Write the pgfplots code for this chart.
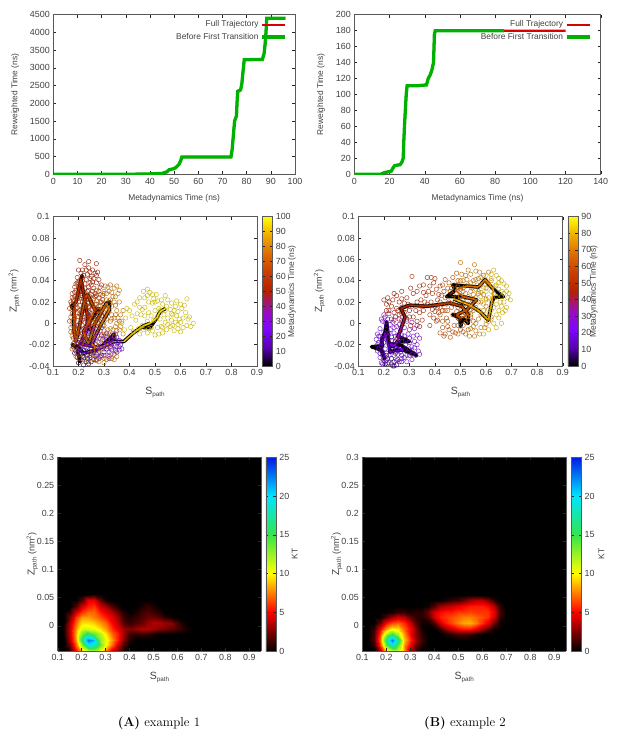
\documentclass[border=0pt]{standalone}
\usepackage{fontspec}
\setsansfont{Liberation Sans}
\usepackage{pgfplots}
\pgfplotsset{compat=1.18}

\definecolor{txt}{gray}{0.25}
\newcommand\tf{\sffamily\fontsize{8.4}{9}\selectfont}
\newcommand\tk{\sffamily\fontsize{8.9}{9}\selectfont}
\newcommand\lb[2]{{\fontsize{#2}{11}\selectfont #1\raisebox{-.35ex}{\fontsize{6.3}{7}\selectfont path}}}
\newcommand\Sp{\lb{S}{10.5}}
\newcommand\Zp{\lb{Z}{10}{\fontsize{9}{11}\selectfont{} (nm\textsuperscript{2})}}

\pgfplotsset{
  colormap={gp}{rgb=(0,0,0) rgb=(.35,0,.71) rgb=(.5,.02,1) rgb=(.61,.05,.71) rgb=(.71,.125,0) rgb=(.79,.24,0) rgb=(.87,.42,0) rgb=(.935,.67,0) rgb=(1,1,0)},
  colormap={kt}{rgb=(0,0,0) rgb=(1,0,0) rgb=(1,1,0) rgb=(.2,.9,.3) rgb=(0,.9,1) rgb=(0,.1,.9)},
  fonts/.style={
    tick label style={font=\tk, text=txt},
    label style={font=\tf, text=txt},
    /pgf/number format/assume math mode=true,
    /pgf/number format/fixed, /pgf/number format/precision=2,
    /pgf/number format/set thousands separator={},
    scaled ticks=false,
  },
  panel/.style={
    scale only axis, anchor=south west, tick align=inside, fonts,
    axis line style={black!65, line width=.5pt},
    tick style={black!85, line width=.4pt},
    major tick length=3pt,
  },
  trace/.style={
    legend plot pos=right, legend cell align=right,
    legend image code/.code={\draw[##1] (0pt,0pt) -- (23pt,0pt);},
    legend style={font=\tf, text=txt, draw=none, fill=none, inner sep=0pt, row sep=.6pt, anchor=north east},
  },
  cbar/.style n args={3}{colorbar, colorbar style={fonts,
    axis line style={black!65, line width=.5pt},
    tick style={black!85, line width=.4pt},
    at={(#1,1)}, anchor=north west, width=10pt, ytick={#2},
    tick align=inside, major tick length=2.5pt, yticklabel pos=right,
    ylabel style={at={(axis description cs:#3,0.5)}, anchor=center, rotate=0},
  }},
  dots/.style={scatter, only marks, mark=o, mark size=2.2pt, point meta=#1,
    mark options={line width=.5pt, opacity=.85}},
  heat/.style={surf, shader=interp, mesh/cols=24, mesh/ordering=x varies},
}

\begin{document}
\begin{tikzpicture}[x=1pt,y=1pt]
\path[use as bounding box] (0,0) rectangle (617,738);

% top row: reweighted time
\begin{axis}[panel, trace, at={(53.3pt,563.7pt)}, width=241.7pt, height=159.6pt,
  xmin=0, xmax=100, ymin=0, ymax=4500, xtick={0,10,...,100}, ytick={0,500,...,4500},
  xlabel={Metadynamics Time (ns)}, ylabel={Reweighted Time (ns)},
  xlabel style={at={(axis description cs:0.5,-0.148)}, anchor=center},
  ylabel style={at={(axis description cs:-0.158,0.5)}, anchor=center},
  legend style={at={(axis description cs:0.967,0.975)}}]
\addplot[red!85!black, line width=2.2pt] coordinates {(0,0)(30,0)(40,10)(45,25)(47,70)(48,130)(50,160)(51,210)(52,280)(52.8,400)(53.2,490)(73.5,490)(74,700)(74.5,1100)(75,1500)(75.8,1650)(76,2000)(76.3,2340)(77.5,2380)(78,2550)(78.5,2900)(79,3230)(86.5,3240)(87.2,3400)(87.6,3650)(88,4000)(88.3,4400)(96,4400)};
\addlegendentry{Full Trajectory}
\addplot[green!70!black, line width=3.3pt] coordinates {(0,0)(30,0)(40,10)(45,25)(47,70)(48,130)(50,160)(51,210)(52,280)(52.8,400)(53.2,490)(73.5,490)(74,700)(74.5,1100)(75,1500)(75.8,1650)(76,2000)(76.3,2340)(77.5,2380)(78,2550)(78.5,2900)(79,3230)(86.5,3240)(87.2,3400)(87.6,3650)(88,4000)(88.3,4400)(96,4400)};
\addlegendentry{Before First Transition}
\end{axis}

\begin{axis}[panel, trace, at={(354.3pt,563.7pt)}, width=246.4pt, height=159.6pt,
  xmin=0, xmax=140, ymin=0, ymax=200, xtick={0,20,...,140}, ytick={0,20,...,200},
  xlabel={Metadynamics Time (ns)}, ylabel={Reweighted Time (ns)},
  xlabel style={at={(axis description cs:0.5,-0.148)}, anchor=center},
  ylabel style={at={(axis description cs:-0.135,0.5)}, anchor=center},
  legend style={at={(axis description cs:0.963,0.975)}}]
\addplot[red!85!black, line width=2.2pt] coordinates {(0,0)(15,0)(17,2)(19,3)(21,4)(22,8)(23,11)(26,12)(27,15)(27.8,20)(28,35)(28.5,60)(29,80)(29.5,100)(30,111)(36,111)(41,112)(42,120)(43,124)(44,130)(45,140)(45.3,160)(45.5,175)(46,180)(85,180)(120,180)};
\addlegendentry{Full Trajectory}
\addplot[green!70!black, line width=3.3pt] coordinates {(0,0)(15,0)(17,2)(19,3)(21,4)(22,8)(23,11)(26,12)(27,15)(27.8,20)(28,35)(28.5,60)(29,80)(29.5,100)(30,111)(36,111)(41,112)(42,120)(43,124)(44,130)(45,140)(45.3,160)(45.5,175)(46,180)(85,180)};
\addlegendentry{Before First Transition}
\end{axis}

% middle row: path collective variables, coloured by time
\begin{axis}[panel, at={(53pt,372pt)}, width=204pt, height=149.3pt,
  xmin=0.1, xmax=0.9, ymin=-0.04, ymax=0.1, xtick={0.1,0.2,...,0.9}, ytick={-0.04,-0.02,0,0.02,0.04,0.06,0.08,0.1},
  xlabel={\Sp}, ylabel={\Zp},
  xlabel style={at={(axis description cs:0.5,-0.178)}, anchor=center},
  ylabel style={at={(axis description cs:-0.19,0.5)}, anchor=center},
  colormap name=gp, point meta min=0, point meta max=100,
  cbar={1.026}{0,10,...,100}{2.97}, colorbar style={ylabel={Metadynamics Time (ns)}}]
\addplot[dots=5] coordinates {(.2,-.037)(.22,-.039)(.24,-.038)(.21,-.034)(.23,-.036)(.25,-.036)(.195,-.032)(.215,-.031)(.235,-.033)(.26,-.034)(.185,-.028)(.205,-.028)(.225,-.028)(.245,-.03)};
\addplot[dots=12] coordinates {(.18,-.022)(.19,-.026)(.2,-.024)(.21,-.021)(.22,-.025)(.23,-.023)(.24,-.026)(.25,-.024)(.26,-.027)(.27,-.029)(.28,-.026)(.29,-.03)(.3,-.027)(.275,-.022)(.255,-.02)(.235,-.018)(.215,-.017)(.195,-.019)(.31,-.024)(.245,-.032)(.27,-.034)(.21,-.029)(.2,-.018)(.225,-.022)(.25,-.028)(.265,-.031)(.285,-.031)(.22,-.032)(.235,-.03)};
\addplot[dots=22] coordinates {(.19,-.016)(.205,-.012)(.22,-.015)(.235,-.013)(.25,-.017)(.265,-.014)(.28,-.018)(.295,-.015)(.31,-.019)(.325,-.016)(.34,-.021)(.355,-.018)(.3,-.024)(.32,-.027)(.34,-.029)(.36,-.025)(.37,-.024)(.285,-.022)(.265,-.009)(.245,-.008)(.225,-.006)(.35,-.013)(.33,-.011)(.31,-.009)(.29,-.011)(.345,-.025)(.325,-.022)(.365,-.02)(.315,-.02)(.33,-.025)(.35,-.027)(.36,-.022)(.345,-.016)(.33,-.02)(.34,-.013)(.32,-.033)(.3,-.012)};
\addplot[dots=32] coordinates {(.21,-.01)(.23,-.003)(.25,-.005)(.27,-.006)(.29,-.004)(.31,-.013)(.33,-.015)(.345,-.01)(.36,-.016)(.35,-.022)(.33,-.019)(.32,-.031)(.3,-.03)(.28,-.033)(.24,-.02)(.26,-.016)(.22,-.02)(.3,-.02)(.275,-.012)(.235,-.009)};
\addplot[dots=42] coordinates {(.2,-.002)(.215,.003)(.23,.006)(.245,.01)(.26,.004)(.275,.001)(.29,.007)(.3,-.002)(.255,-.003)(.27,.012)(.24,.015)(.225,-.004)(.285,-.007)(.21,.008)};
\addplot[dots=52] coordinates {(.205,.059)(.225,.055)(.24,.052)(.27,.056)(.255,.05)(.265,.047)(.21,.047)(.195,.043)(.22,.045)(.235,.046)(.25,.044)(.28,.041)(.27,.038)(.19,.037)(.205,.04)(.225,.037)(.245,.038)(.26,.033)(.29,.036)(.28,.03)(.2,.033)(.215,.03)(.235,.03)(.25,.027)(.27,.026)(.185,.029)(.295,.026)(.285,.02)(.265,.018)(.24,.02)(.22,.023)(.2,.025)(.18,.022)(.275,.012)(.29,.012)(.2,.05)(.215,.043)(.23,.05)(.245,.042)(.26,.042)(.275,.048)(.21,.038)(.24,.034)(.265,.028)(.19,.031)(.23,.025)(.255,.03)(.285,.034)(.225,.033)(.21,.026)(.28,.024)(.25,.036)(.195,.038)(.27,.045)(.24,.058)};
\addplot[dots=58] coordinates {(.17,.02)(.18,.015)(.19,.019)(.205,.017)(.215,.012)(.23,.016)(.25,.013)(.26,.023)(.24,.031)(.21,.034)(.195,.01)(.175,.009)(.22,.006)(.245,.005)(.265,.009)(.28,.005)(.3,.018)(.305,.008)(.185,.004)(.2,.028)(.23,.041)(.255,.039)(.215,.05)(.245,.048)(.175,.024)(.195,.023)(.215,.02)(.235,.019)(.245,.025)(.265,.025)(.225,.028)(.205,.03)(.185,.025)(.19,.014)(.205,.009)(.225,.012)(.24,.008)(.255,.016)(.27,.018)(.29,.02)};
\addplot[dots=66] coordinates {(.165,.014)(.17,.006)(.178,-.002)(.185,.012)(.172,.018)(.19,.026)(.2,.02)(.21,.024)(.22,.016)(.23,.022)(.24,.012)(.2,.006)(.19,-.006)(.205,-.004)(.17,-.008)(.18,-.014)(.195,-.012)(.215,-.009)(.225,.001)(.25,.018)(.26,.015)(.27,.006)(.235,.026)(.175,.028)(.185,.034)(.2,.038)(.215,.04)(.165,.002)(.175,.002)(.185,-.004)(.195,-.002)(.215,-.002)(.205,.012)(.235,.003)(.25,.008)(.26,.001)(.195,.015)(.175,.013)(.18,.02)(.21,.013)(.185,-.009)(.2,-.016)(.22,-.005)(.24,-.002)};
\addplot[dots=74] coordinates {(.17,-.004)(.175,-.012)(.18,-.019)(.185,-.024)(.195,-.028)(.205,-.023)(.215,-.014)(.225,-.011)(.24,-.006)(.255,.001)(.265,-.002)(.28,.009)(.295,.014)(.31,.022)(.3,.028)(.285,.027)(.27,.031)(.25,.024)(.235,.008)(.21,.002)(.195,.003)(.18,.008)(.32,.012)(.31,.004)(.325,.002)(.3,-.007)(.29,-.012)(.275,-.017)(.26,-.022)(.245,-.028)(.26,-.03)(.28,-.028)(.3,-.033)(.315,-.03)(.33,-.033)(.32,-.01)(.335,-.006)(.34,.005)(.345,.017)(.335,.025)(.32,.03)(.305,.035)(.325,.036)(.18,-.008)(.19,-.014)(.2,-.009)(.21,-.019)(.225,-.02)(.235,-.015)(.25,-.011)(.26,-.007)(.27,.002)(.28,-.003)(.29,.004)(.3,.01)(.31,.013)(.32,.021)(.33,.008)(.295,.022)(.28,.016)(.265,.014)(.25,.004)(.24,.016)(.225,.019)(.21,.007)(.185,-.018)(.175,-.024)(.19,-.031)(.205,-.033)(.225,-.034)(.24,-.036)(.255,-.026)(.27,-.02)(.285,-.014)(.3,-.017)(.315,-.015)(.33,-.023)(.345,-.026)(.31,-.022)(.29,-.024)(.27,-.035)(.35,-.007)(.36,.002)};
\addplot[dots=82] coordinates {(.3,.03)(.315,.034)(.34,.033)(.35,.035)(.355,.028)(.34,.02)(.33,.016)(.35,.012)(.36,.02)(.365,.008)(.35,0)(.36,-.006)(.37,.002)(.375,-.01)(.34,-.012)(.355,.005)(.315,-.006)(.3,.002)(.285,.016)(.27,.021)(.255,-.012)(.24,-.016)(.27,-.025)(.29,-.032)(.31,-.034)(.33,-.028)(.35,-.031)(.34,-.034)(.22,-.03)(.26,-.033)(.28,-.036)(.3,-.037)(.375,.012)(.345,.025)(.33,.029)(.31,.028)(.325,.022)(.315,.015)(.33,.004)(.345,-.003)(.325,-.005)(.31,-.011)(.295,-.002)(.28,.012)(.36,.031)(.345,.008)(.365,-.003)};
\addplot[dots=96] coordinates {(.37,0)(.38,-.006)(.385,.005)(.39,.014)(.4,.012)(.405,-.004)(.41,.007)(.42,.018)(.43,.02)(.44,.015)(.425,.003)(.415,-.008)(.435,-.005)(.445,.008)(.455,.03)(.47,.032)(.46,.024)(.48,.029)(.49,.027)(.505,.027)(.475,.02)(.49,.019)(.51,.021)(.525,.022)(.5,.012)(.485,.007)(.47,.002)(.455,-.006)(.47,-.009)(.485,-.004)(.5,-.011)(.515,-.01)(.53,-.009)(.545,-.006)(.56,-.003)(.575,-.007)(.59,-.005)(.52,.004)(.535,.008)(.55,.005)(.565,.003)(.58,.001)(.595,.004)(.61,-.004)(.625,-.002)(.64,-.003)(.65,0)(.635,.006)(.62,.01)(.605,.014)(.59,.011)(.575,.012)(.56,.013)(.545,.016)(.53,.018)(.55,.022)(.565,.019)(.58,.016)(.6,.018)(.625,.023)(.61,.005)(.51,-.004)(.495,.003)(.54,.001)(.525,-.003)(.44,-.01)(.45,.013)(.515,.014)(.6,-.008)(.57,.008)(.43,.009)(.46,.015)(.475,.01)(.5,.02)(.52,.012)(.54,.012)(.565,.009)(.585,.007)(.6,.001)(.57,-.002)(.55,-.001)(.53,-.004)(.51,.006)(.49,-.007)(.46,.007)(.44,.024)(.47,.026)(.495,.023)(.54,.026)(.585,.021)(.615,.017)(.63,.004)(.59,-.001)(.45,-.002)(.475,-.005)};
\addplot[black, line width=3.6pt, line join=round] coordinates {(.206,-.037)(.195,-.023)(.175,-.02)(.2,-.022)(.219,-.028)(.271,-.025)(.337,-.016)(.34,-.01)(.284,-.023)(.206,-.019)(.229,-.009)(.239,.009)(.245,-.006)(.21,.041)(.214,.045)(.19,.02)(.172,.016)(.182,.0125)(.182,-.006)(.19,-.017)(.206,0)(.225,.023)(.235,.027)(.265,.0125)(.28,.014)(.219,-.008)(.239,-.019)(.265,0)(.31,.019)(.322,.02)(.321,.0125)(.284,-.003)(.252,-.019)(.265,-.023)(.297,-.022)(.337,-.017)(.378,-.017)(.415,-.009)(.454,-.0025)(.48,0)(.455,-.004)(.48,-.004)(.507,.005)(.52,.011)(.542,.014)};
\addplot[mesh, line width=1.6pt, line join=round, point meta=explicit] coordinates {(.206,-.034)[5](.195,-.023)[10](.219,-.028)[15](.271,-.025)[20](.337,-.016)[25](.284,-.023)[30](.206,-.019)[32](.229,-.009)[36](.239,.009)[40](.245,-.006)[44](.21,.041)[55](.182,.0125)[62](.182,-.006)[68](.19,-.017)[70](.206,0)[71](.225,.023)[72](.235,.027)[72](.265,.0125)[73](.219,-.008)[74](.239,-.019)[75](.265,0)[76](.31,.019)[77](.321,.0125)[78](.284,-.003)[79](.252,-.019)[80](.265,-.023)[82](.297,-.022)[84](.337,-.017)[86](.378,-.017)[88](.415,-.009)[90](.454,-.0025)[92](.48,0)[93](.507,.005)[95](.52,.011)[96](.542,.014)[97]};
\end{axis}

\begin{axis}[panel, at={(358.3pt,372pt)}, width=204.4pt, height=149.3pt,
  xmin=0.1, xmax=0.9, ymin=-0.04, ymax=0.1, xtick={0.1,0.2,...,0.9}, ytick={-0.04,-0.02,0,0.02,0.04,0.06,0.08,0.1},
  xlabel={\Sp}, ylabel={\Zp},
  xlabel style={at={(axis description cs:0.5,-0.178)}, anchor=center},
  ylabel style={at={(axis description cs:-0.19,0.5)}, anchor=center},
  colormap name=gp, point meta min=0, point meta max=90,
  cbar={1.025}{0,10,...,90}{2.6}, colorbar style={ylabel={Metadynamics Time (ns)}}]
\addplot[dots=5] coordinates {(.2,-.035)(.22,-.037)(.24,-.036)(.21,-.03)(.23,-.033)(.255,-.034)(.195,-.027)(.225,-.026)(.245,-.028)(.205,-.038)(.24,-.04)(.215,-.033)};
\addplot[dots=14] coordinates {(.19,-.022)(.205,-.024)(.22,-.02)(.235,-.023)(.25,-.025)(.265,-.027)(.28,-.032)(.27,-.036)(.25,-.039)(.235,-.04)(.215,-.038)(.2,-.033)(.185,-.028)(.3,-.03)(.315,-.028)(.18,-.018)(.195,-.014)(.215,-.012)(.23,-.016)(.26,-.02)(.245,-.017)(.2,-.018)(.21,-.028)(.225,-.026)(.24,-.03)(.255,-.029)(.23,-.013)(.215,-.017)(.2,-.03)(.26,-.036)(.24,-.02)};
\addplot[dots=24] coordinates {(.175,-.02)(.18,-.012)(.185,-.005)(.2,-.008)(.21,-.002)(.195,.002)(.19,.004)(.205,.006)(.225,-.006)(.24,-.009)(.255,-.012)(.27,-.017)(.285,-.02)(.3,-.024)(.32,-.023)(.335,-.026)(.34,-.029)(.325,-.03)(.31,-.034)(.29,-.036)(.27,-.03)(.22,-.03)(.185,-.032)(.175,-.026)(.17,-.015)(.19,-.037)(.3,-.018)(.32,-.017)(.33,-.011)(.34,-.014)(.315,-.012)(.295,-.01)(.28,-.012)(.265,-.007)(.25,-.003)(.235,.001)(.215,.004)(.18,-.024)(.19,-.018)(.2,-.014)(.21,-.01)(.195,-.03)(.21,-.035)(.23,-.038)(.25,-.035)(.27,-.033)(.29,-.03)(.31,-.029)(.28,-.025)(.26,-.015)(.285,-.015)(.24,-.004)(.225,-.001)(.205,.001)(.185,-.012)(.175,-.01)(.245,-.012)(.27,-.011)(.3,-.014)(.22,-.009)(.31,-.022)(.33,-.02)(.195,-.038)};
\addplot[dots=34] coordinates {(.23,.004)(.245,.006)(.26,-.001)(.28,-.004)(.3,-.006)(.32,-.005)(.33,-.002)(.31,.001)(.29,.002)(.27,.003)(.2,.008)(.22,.009)(.215,-.012)(.25,-.015)};
\addplot[dots=45] coordinates {(.2,.022)(.21,.018)(.215,.024)(.23,.016)(.24,.028)(.25,.026)(.26,.02)(.27,.015)(.28,.019)(.29,.024)(.305,.033)(.315,.028)(.33,.02)(.22,.012)(.24,.01)(.26,.008)(.28,.01)(.3,.012)(.315,.006)(.33,.002)(.34,-.003)(.27,.03)(.25,.014)(.29,.004)(.305,-.002)(.22,.02)(.235,.022)(.255,.012)(.27,.023)(.285,.014)(.3,.006)(.27,.009)(.31,.016)(.325,.012)(.24,.003)(.26,.004)(.21,.012)(.295,.018)};
\addplot[dots=53] coordinates {(.31,.044)(.34,.035)(.355,.029)(.37,.043)(.385,.043)(.355,.036)(.38,.035)(.395,.038)(.365,.026)(.345,.022)(.33,.03)(.375,.03)(.39,.028)(.405,.032)(.385,.02)(.37,.018)(.355,.012)(.34,.01)(.38,.008)(.4,.016)(.41,.022)(.42,.035)(.435,.03)(.43,.018)(.415,.01)(.395,.005)(.38,-.002)(.35,.003)(.4,.042)(.415,.027)(.4,.011)(.36,.02)(.42,.015)(.41,.003)(.39,.013)(.345,.016)};
\addplot[dots=62] coordinates {(.42,.008)(.44,.012)(.455,.02)(.47,.027)(.485,.047)(.475,.036)(.49,.04)(.455,.038)(.44,.041)(.425,.026)(.405,.002)(.43,-.004)(.45,.002)(.47,.008)(.49,.015)(.51,.022)(.5,.032)(.42,-.009)(.44,-.01)(.455,-.006)(.475,-.002)(.495,.004)(.515,.01)(.53,.018)(.435,-.012)(.46,-.013)(.48,-.009)(.5,-.006)(.52,.001)(.54,.006)(.445,.005)(.465,.015)(.45,.012)(.46,.03)(.48,.02)(.5,.025)(.49,.005)(.47,.018)(.44,.024)(.45,.033)(.43,.036)(.47,.043)(.51,.03)(.52,.015)(.54,.013)(.43,.012)(.41,.015)(.45,-.003)(.47,-.008)(.49,-.002)(.51,-.008)(.53,-.006)(.43,.002)(.52,.024)(.49,.032)(.445,.018)(.42,.02)(.485,.011)(.505,.018)(.53,.009)(.55,.002)};
\addplot[dots=72] coordinates {(.5,.057)(.555,.055)(.53,.05)(.52,.045)(.54,.046)(.56,.049)(.575,.048)(.51,.04)(.53,.036)(.55,.04)(.57,.042)(.59,.045)(.61,.048)(.5,.026)(.52,.028)(.54,.03)(.56,.032)(.58,.036)(.6,.04)(.52,-.01)(.54,-.005)(.56,0)(.58,.008)(.6,.016)(.55,.012)(.57,.02)(.59,.027)(.51,-.002)(.49,-.01)(.535,-.012)(.555,-.012)(.575,-.01)(.595,-.004)(.61,.002)(.56,-.007)(.545,.022)(.525,.006)(.505,.012)(.485,.024)(.465,.033)(.52,.035)(.54,.038)(.56,.041)(.58,.043)(.6,.033)(.55,.027)(.53,.025)(.51,.033)(.57,.028)(.58,.02)(.56,.015)(.54,.008)(.52,.018)(.5,.04)(.49,.034)(.6,.023)(.59,.012)(.57,.004)(.55,-.003)(.53,.003)(.51,.007)(.565,.036)(.545,.033)(.525,.041)(.505,.046)(.62,.04)(.62,.006)(.58,-.004)(.6,-.001)(.54,.017)(.56,.024)(.58,.029)};
\addplot[dots=84] coordinates {(.57,.03)(.59,.034)(.61,.036)(.63,.05)(.62,.042)(.64,.045)(.66,.04)(.67,.037)(.65,.032)(.63,.028)(.61,.024)(.59,.018)(.62,.012)(.64,.018)(.66,.025)(.68,.03)(.695,.022)(.68,.015)(.665,.01)(.65,.005)(.63,0)(.61,-.006)(.59,-.01)(.64,-.004)(.66,0)(.62,.02)(.6,.03)(.575,.012)(.6,.008)(.65,.012)(.67,.02)(.685,.024)(.58,.025)(.6,.022)(.62,.03)(.64,.036)(.65,.038)(.66,.03)(.67,.028)(.64,.025)(.63,.015)(.61,.013)(.6,.003)(.62,.004)(.64,.008)(.66,.016)(.675,.012)(.65,.042)(.6,.045)(.62,.046)(.68,.035)(.69,.028)(.655,.02)(.635,.035)};
\addplot[black, line width=3.6pt, line join=round] coordinates {(.204,-.034)(.19,-.025)(.152,-.022)(.195,-.021)(.191,-.015)(.204,-.009)(.211,.0015)(.217,-.012)(.224,-.027)(.25,-.025)(.276,-.025)(.328,-.03)(.27,-.021)(.224,-.019)(.237,-.022)(.253,-.017)(.3,-.017)(.255,-.012)(.261,-.009)(.283,.006)(.266,.014)(.302,.017)(.368,.016)(.459,.019)(.505,.016)(.531,.008)(.53,.0)(.51,.005)(.5,-.003)(.498,.005)(.47,.008)(.485,.008)(.524,.0125)(.563,.022)(.511,.025)(.446,.025)(.479,.031)(.47,.036)(.524,.035)(.57,.034)(.596,.041)(.605,.038)(.629,.032)(.668,.025)(.63,.024)(.622,.019)(.609,.003)(.576,.011)(.537,.017)(.472,.023)};
\addplot[mesh, line width=1.6pt, line join=round, point meta=explicit] coordinates {(.204,-.034)[3](.191,-.022)[6](.204,-.009)[10](.224,-.027)[14](.276,-.025)[18](.224,-.019)[22](.237,-.022)[28](.253,-.017)[35](.261,-.009)[40](.283,.006)[43](.266,.014)[46](.302,.017)[49](.368,.016)[52](.459,.019)[55](.505,.016)[57](.531,.008)[59](.498,.005)[60](.485,.008)[61](.524,.0125)[62](.563,.022)[64](.511,.025)[65](.479,.031)[66](.524,.035)[68](.57,.034)[70](.596,.041)[72](.629,.032)[74](.622,.019)[76](.609,.003)[78](.576,.011)[80](.537,.017)[82](.472,.023)[88]};
\end{axis}

% bottom row: free energy surfaces
\begin{axis}[panel, at={(57.7pt,87pt)}, width=203.6pt, height=193.7pt, view={0}{90},
  axis background/.style={fill=black},
  xmin=0.1, xmax=0.95, ymin=-0.045, ymax=0.3, xtick={0.1,0.2,...,0.9}, ytick={0,0.05,...,0.3},
  xlabel={\Sp}, ylabel={\Zp},
  xlabel style={at={(axis description cs:0.5,-0.139)}, anchor=center},
  ylabel style={at={(axis description cs:-0.125,0.5)}, anchor=center},
  colormap name=kt, point meta min=0, point meta max=25,
  cbar={1.022}{0,5,...,25}{2.9}, colorbar style={ylabel={KT}}]
\addplot3[heat] table[row sep=crcr, header=false, z index=0,
  x expr={0.125+0.025*mod(\coordindex,24)}, y expr={-0.045+0.01*floor(\coordindex/24)}] {
0\\1\\5\\9\\11\\12\\10\\7.5\\4\\2\\.5\\0\\0\\0\\0\\0\\0\\0\\0\\0\\0\\0\\0\\0\\
0\\2.5\\7\\13\\19\\18\\14\\10\\7\\4\\1\\0\\0\\0\\0\\0\\0\\0\\0\\0\\0\\0\\0\\0\\
0\\3.5\\8\\16\\23\\21\\13\\10.5\\8\\5.5\\2.5\\.4\\0\\0\\0\\0\\0\\0\\0\\0\\0\\0\\0\\0\\
.5\\4\\8.5\\13.5\\16\\14\\12\\9.5\\7\\5.5\\3\\1.2\\1\\1\\.8\\.4\\0\\0\\0\\0\\0\\0\\0\\0\\
.5\\4\\8\\11\\11\\10.5\\9.5\\8\\6\\4.5\\3\\2.5\\3\\3.5\\3.5\\3\\2.5\\2.2\\1.8\\1.2\\.8\\.2\\0\\0\\
.5\\3.5\\7\\9.5\\9.5\\9\\8\\7\\5\\3.5\\1.5\\1\\1.5\\2\\3\\3.5\\3.5\\3\\2.8\\1.5\\.4\\0\\0\\0\\
0\\2.5\\6\\8\\8\\7.5\\6.5\\5.5\\4.5\\3\\1\\.6\\1\\1.5\\2\\2\\1.5\\.8\\.3\\0\\0\\0\\0\\0\\
0\\1\\4\\6\\7\\7\\5.5\\4.5\\3.5\\2\\.5\\0\\.5\\1.2\\1.5\\1\\.6\\0\\0\\0\\0\\0\\0\\0\\
0\\0\\1.5\\4\\5.5\\6\\4\\3\\1.5\\.5\\0\\0\\0\\.5\\1\\.5\\0\\0\\0\\0\\0\\0\\0\\0\\
0\\0\\0\\1.5\\4.5\\4.5\\2\\.5\\0\\0\\0\\0\\0\\0\\0\\0\\0\\0\\0\\0\\0\\0\\0\\0\\
0\\0\\0\\0\\.5\\1\\.5\\0\\0\\0\\0\\0\\0\\0\\0\\0\\0\\0\\0\\0\\0\\0\\0\\0\\
};
\end{axis}

\begin{axis}[panel, at={(362.3pt,87pt)}, width=204pt, height=193.7pt, view={0}{90},
  axis background/.style={fill=black},
  xmin=0.1, xmax=0.95, ymin=-0.045, ymax=0.3, xtick={0.1,0.2,...,0.9}, ytick={0,0.05,...,0.3},
  xlabel={\Sp}, ylabel={\Zp},
  xlabel style={at={(axis description cs:0.5,-0.139)}, anchor=center},
  ylabel style={at={(axis description cs:-0.125,0.5)}, anchor=center},
  colormap name=kt, point meta min=0, point meta max=25,
  cbar={1.024}{0,5,...,25}{3.03}, colorbar style={ylabel={KT}}]
\addplot3[heat] table[row sep=crcr, header=false, z index=0,
  x expr={0.125+0.025*mod(\coordindex,24)}, y expr={-0.045+0.01*floor(\coordindex/24)}] {
0\\0\\3\\9\\11\\11\\8\\3.5\\1\\0\\0\\0\\0\\0\\0\\0\\0\\0\\0\\0\\0\\0\\0\\0\\
0\\1\\6\\14\\19\\14\\8\\5\\2\\.5\\0\\0\\0\\0\\0\\0\\0\\0\\0\\0\\0\\0\\0\\0\\
0\\1.5\\7\\16\\23\\17\\9\\6\\3\\1.2\\0\\0\\0\\0\\0\\0\\0\\0\\0\\0\\0\\0\\0\\0\\
0\\1.5\\6\\12\\15\\12\\8\\5\\2.5\\.8\\0\\0\\0\\.5\\1\\1.5\\1.5\\1\\.5\\0\\0\\0\\0\\0\\
0\\1\\4.5\\8\\10\\9.5\\7\\5\\2.5\\.3\\0\\0\\1.2\\3\\4\\5\\5.5\\5.5\\4.5\\3\\1.5\\.2\\0\\0\\
0\\0\\2\\5\\6.5\\7\\6\\4\\1.5\\.4\\.3\\1.5\\4\\5.5\\6.5\\7.5\\8.3\\8.5\\7.5\\6\\4.5\\2\\.2\\0\\
0\\0\\0\\1.5\\3\\4\\3.5\\2\\1\\.8\\1.5\\4\\5.5\\6\\6.5\\7\\7.5\\7.5\\7\\6.5\\6\\4\\.8\\0\\
0\\0\\0\\0\\.3\\1\\1\\.5\\.8\\.8\\2\\4\\5\\5.5\\5.5\\6\\6\\6.3\\6\\6\\6\\4.5\\1.5\\0\\
0\\0\\0\\0\\0\\0\\0\\0\\0\\0\\.3\\1.5\\3\\3.5\\4\\4.5\\5\\5.5\\5.5\\5.5\\5\\3.5\\.8\\0\\
0\\0\\0\\0\\0\\0\\0\\0\\0\\0\\0\\0\\0\\.5\\1\\1.2\\2\\3\\3.5\\3.5\\2.5\\.8\\0\\0\\
0\\0\\0\\0\\0\\0\\0\\0\\0\\0\\0\\0\\0\\0\\0\\0\\0\\0\\0\\0\\0\\0\\0\\0\\
};
\end{axis}

\node[font=\fontsize{12.9}{15}\selectfont] at (159,15) {\textbf{(A)} example 1};
\node[font=\fontsize{12.9}{15}\selectfont] at (465,15) {\textbf{(B)} example 2};
\end{tikzpicture}
\end{document}
